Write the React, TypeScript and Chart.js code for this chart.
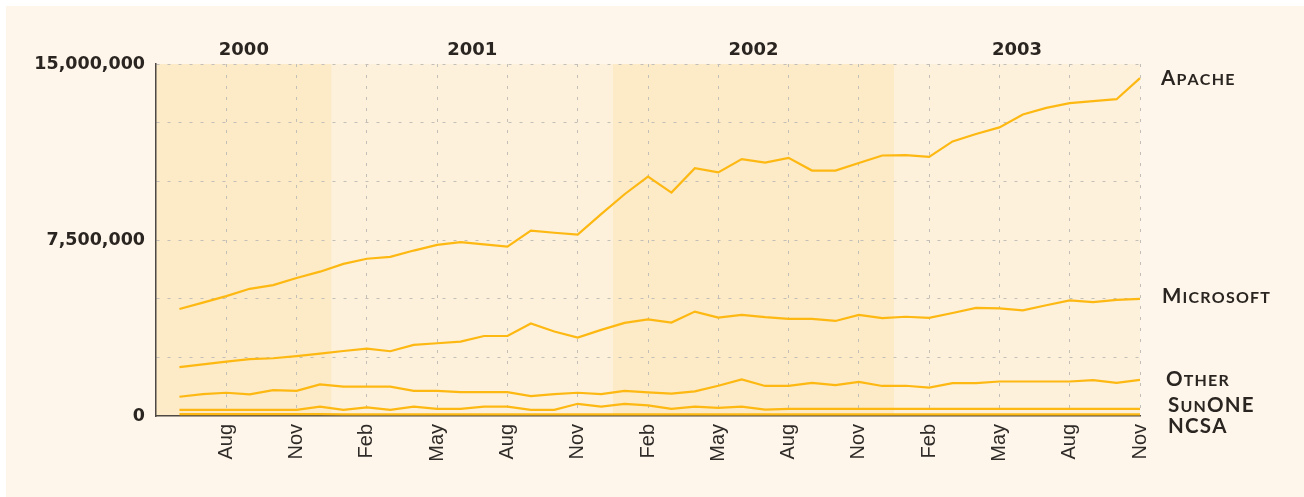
import React, { useEffect, useRef } from "react";
import { Chart, registerables } from "chart.js";

Chart.register(...registerables);

// Monthly survey points, May 2000 .. Nov 2003 (values in millions of sites)
const categories = [
  "May 2000", "Jun 2000", "Jul 2000", "Aug 2000", "Sep 2000", "Oct 2000", "Nov 2000", "Dec 2000",
  "Jan 2001", "Feb 2001", "Mar 2001", "Apr 2001", "May 2001", "Jun 2001", "Jul 2001", "Aug 2001",
  "Sep 2001", "Oct 2001", "Nov 2001", "Dec 2001",
  "Jan 2002", "Feb 2002", "Mar 2002", "Apr 2002", "May 2002", "Jun 2002", "Jul 2002", "Aug 2002",
  "Sep 2002", "Oct 2002", "Nov 2002", "Dec 2002",
  "Jan 2003", "Feb 2003", "Mar 2003", "Apr 2003", "May 2003", "Jun 2003", "Jul 2003", "Aug 2003",
  "Sep 2003", "Oct 2003", "Nov 2003",
];

const apache = [
  null, 4.56, 4.83, 5.11, 5.42, 5.58, 5.88, 6.15,
  6.48, 6.70, 6.78, 7.05, 7.29, 7.41, 7.31, 7.22, 7.90, 7.81, 7.73, 8.60,
  9.45, 10.20, 9.52, 10.56, 10.38, 10.95, 10.80, 11.00, 10.46, 10.46, 10.78, 11.10,
  11.12, 11.04, 11.70, 12.02, 12.30, 12.85, 13.13, 13.33, 13.42, 13.50, 14.40,
];

const microsoft = [
  null, 2.08, 2.20, 2.32, 2.42, 2.46, 2.55, 2.66,
  2.77, 2.87, 2.76, 3.03, 3.10, 3.17, 3.41, 3.41, 3.94, 3.60, 3.34, 3.67,
  3.97, 4.12, 3.98, 4.45, 4.19, 4.31, 4.21, 4.14, 4.14, 4.05, 4.31, 4.17,
  4.23, 4.18, 4.39, 4.61, 4.59, 4.50, 4.72, 4.93, 4.85, 4.95, 4.99,
];

const other = [
  null, 0.82, 0.93, 0.99, 0.92, 1.10, 1.07, 1.35,
  1.25, 1.25, 1.25, 1.07, 1.07, 1.02, 1.02, 1.02, 0.85, 0.93, 0.99, 0.93,
  1.07, 1.01, 0.95, 1.05, 1.29, 1.56, 1.28, 1.28, 1.41, 1.32, 1.45, 1.28,
  1.29, 1.21, 1.40, 1.40, 1.47, 1.47, 1.47, 1.47, 1.53, 1.41, 1.54,
];

const sunone = [
  null, 0.26, 0.26, 0.26, 0.26, 0.26, 0.26, 0.40,
  0.26, 0.37, 0.26, 0.40, 0.30, 0.30, 0.40, 0.40, 0.26, 0.26, 0.52, 0.40,
  0.52, 0.45, 0.30, 0.40, 0.35, 0.40, 0.27, 0.30, 0.30, 0.30, 0.30, 0.30,
  0.30, 0.30, 0.30, 0.30, 0.30, 0.30, 0.30, 0.30, 0.30, 0.30, 0.30,
];

const ncsa = [
  null, 0.08, 0.08, 0.08, 0.08, 0.08, 0.08, 0.08,
  0.07, 0.07, 0.07, 0.07, 0.07, 0.07, 0.07, 0.07, 0.07, 0.07, 0.07, 0.07,
  0.07, 0.07, 0.07, 0.07, 0.07, 0.07, 0.07, 0.07, 0.07, 0.07, 0.07, 0.07,
  0.07, 0.07, 0.07, 0.07, 0.07, 0.07, 0.07, 0.07, 0.07, 0.07, 0.07,
];

const seriesNames = ["Apache", "Microsoft", "Other", "SunONE", "NCSA"];
const seriesValues = [apache, microsoft, other, sunone, ncsa];

const yearLabels = ["2000", "2001", "2002", "2003"];
const yTickLabels = [0, 7.5, 15];

// styling
const PANEL = "#fef6ea";
const BAND_DARK = "#fdeac6";
const BAND_LIGHT = "#fdf1dc";
const LINE = "#fdb812";
const INK = "#2a2521";

// label placement tweaks (pixels) for the right-hand series names
const nameDy = [-1, -3, -1, -4, 11];
const nameDx = [21, 22, 26, 28, 28];

function monthOf(label: string) {
  return label.split(" ")[0];
}

function drawSmallCaps(ctx: CanvasRenderingContext2D, text: string, x: number, y: number, big: number, small: number) {
  let cx = x;
  for (const ch of text) {
    const lower = ch !== ch.toUpperCase();
    const size = lower ? small : big;
    ctx.font = `bold ${size}px Lato, "Noto Sans", sans-serif`;
    const c = ch.toUpperCase();
    ctx.fillText(c, cx, y);
    cx += ctx.measureText(c).width + 1.2;
  }
}

const decorPlugin = {
  id: "decor",
  beforeDraw(chart: any) {
    const { ctx, chartArea, scales } = chart;
    const x = scales.x;
    ctx.save();
    ctx.fillStyle = "#ffffff";
    ctx.fillRect(0, 0, chart.width, chart.height);
    ctx.fillStyle = PANEL;
    ctx.fillRect(6, 6, chart.width - 6, chart.height - 6);
    // year bands: boundaries between Dec and Jan
    const firstJan = categories.map((c, i) => (monthOf(c) === "Jan" ? i : -1)).filter((i) => i >= 0);
    const edges = [chartArea.left, ...firstJan.map((i) => x.getPixelForValue(i - 0.5)), chartArea.right];
    for (let b = 0; b < edges.length - 1; b++) {
      ctx.fillStyle = b % 2 === 0 ? BAND_DARK : BAND_LIGHT;
      ctx.fillRect(edges[b], chartArea.top, edges[b + 1] - edges[b], chartArea.bottom - chartArea.top);
    }
    ctx.restore();
  },
  afterDraw(chart: any) {
    const { ctx, chartArea, scales } = chart;
    const x = scales.x;
    const y = scales.y;
    ctx.save();
    // year labels
    const firstJan = categories.map((c, i) => (monthOf(c) === "Jan" ? i : -1)).filter((i) => i >= 0);
    const edges = [chartArea.left, ...firstJan.map((i) => x.getPixelForValue(i - 0.5)), chartArea.right];
    ctx.fillStyle = INK;
    ctx.font = 'bold 18px "DejaVu Sans", sans-serif';
    ctx.textAlign = "center";
    ctx.textBaseline = "middle";
    yearLabels.forEach((yl, b) => {
      ctx.fillText(yl, (edges[b] + edges[b + 1]) / 2, chartArea.top - 14);
    });
    // series names
    ctx.textAlign = "left";
    ctx.textBaseline = "alphabetic";
    seriesNames.forEach((name, k) => {
      const vals = seriesValues[k];
      const last = vals[vals.length - 1] as number;
      const cy = y.getPixelForValue(last) + nameDy[k];
      drawSmallCaps(ctx, name, chartArea.right + nameDx[k], cy + 7.5, 20.5, 16);
    });
    ctx.restore();
  },
};

export default function App() {
  const ref = useRef<HTMLCanvasElement>(null);
  useEffect(() => {
    document.body.style.margin = "0";
    const canvas = ref.current!;
    const chart = new Chart(canvas, {
      type: "line",
      data: {
        labels: categories,
        datasets: seriesNames.map((name, k) => ({
          label: name,
          data: seriesValues[k],
          borderColor: LINE,
          backgroundColor: LINE,
          borderWidth: 2.2,
          pointRadius: 0,
          tension: 0,
          fill: false,
        })),
      },
      options: {
        responsive: false,
        animation: false,
        devicePixelRatio: 1,
        layout: { padding: { left: 0, top: 64, right: 164, bottom: 0 } },
        plugins: { legend: { display: false }, tooltip: { enabled: false } },
        scales: {
          x: {
            type: "category",
            offset: false,
            afterFit: (s: any) => {
              s.height = 81;
            },
            grid: {
              drawTicks: false,
              lineWidth: 1,
              color: (ctx: any) => {
                const i = ctx.index;
                return i > 0 && i % 3 === 0 ? "#c2bfb8" : "rgba(0,0,0,0)";
              },
            },
            border: { display: true, color: "#4d4843", width: 1.5, dash: [3, 8] },
            ticks: {
              autoSkip: false,
              maxRotation: 90,
              minRotation: 90,
              padding: 8,
              color: "#2f2b28",
              font: { family: '"Liberation Sans", Arial, sans-serif', size: 20 },
              callback: (_v: any, i: number) => (i > 0 && i % 3 === 0 ? monthOf(categories[i]) : ""),
            },
          },
          y: {
            min: 0,
            max: 15,
            afterFit: (s: any) => {
              s.width = 156;
            },
            grid: {
              drawTicks: false,
              lineWidth: 1,
              color: (ctx: any) => (ctx.tick && ctx.tick.value === 0 ? "rgba(0,0,0,0)" : "#c2bfb8"),
            },
            border: { display: true, color: "#4d4843", width: 1.5, dash: [3, 8] },
            ticks: {
              stepSize: 2.5,
              padding: 11,
              color: INK,
              font: { family: '"DejaVu Sans", sans-serif', size: 17.5, weight: "bold" },
              callback: (v: any) =>
                yTickLabels.includes(Number(v)) ? (Number(v) * 1e6).toLocaleString("en-US") : "",
            },
          },
        },
      },
      plugins: [decorPlugin],
    } as any);
    return () => chart.destroy();
  }, []);
  return (
    <div style={{ position: "fixed", left: 0, top: 0, width: 1304, height: 497 }}>
      <canvas ref={ref} width={1304} height={497} style={{ display: "block" }} />
    </div>
  );
}
